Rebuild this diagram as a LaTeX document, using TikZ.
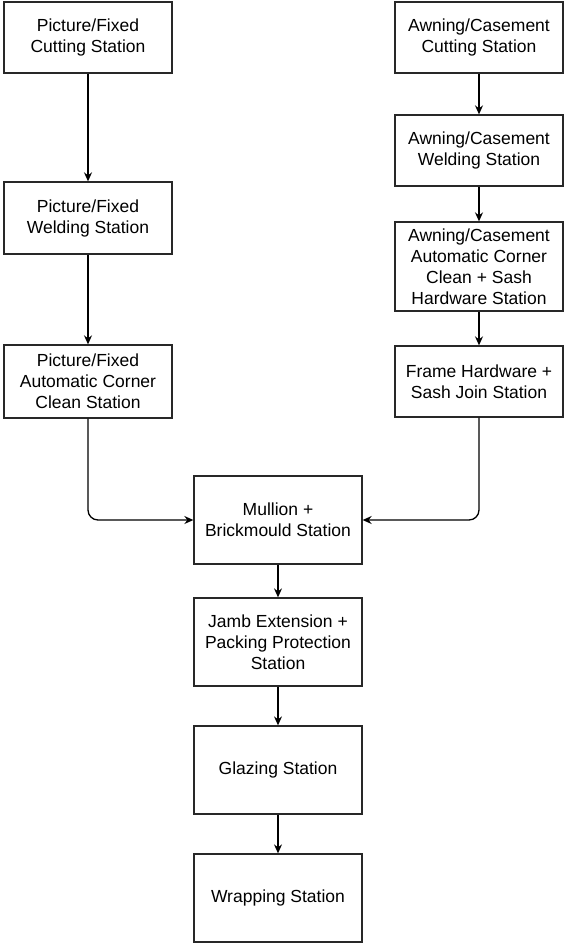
\documentclass[tikz,border=0pt]{standalone}
\usepackage{fontspec}
\setmainfont{Liberation Sans}
\definecolor{boxline}{RGB}{40, 40, 40}
\usetikzlibrary{arrows.meta,positioning}
\tikzset{
    station/.style={draw=boxline, line width=1.3pt, fill=white, align=center,
        minimum width=168pt, inner sep=2pt, font=\fontsize{17.5}{21}\selectfont},
    flow/.style={line width=1.3pt, -{Stealth[length=9pt,width=8pt,inset=3pt]}}
}
\begin{document}
\begin{tikzpicture}[x=1pt, y=-1pt]
    \useasboundingbox (0,0) rectangle (563,943);

    % Picture/Fixed line
    \node[station, minimum height=71pt] (pf1) at (88,37.5) {Picture/Fixed\\Cutting Station};
    \node[station, minimum height=72pt] (pf2) at (88,218) {Picture/Fixed\\Welding Station};
    \node[station, minimum height=73pt] (pf3) at (88,381.5) {Picture/Fixed\\Automatic Corner\\Clean Station};

    % Awning/Casement line
    \node[station, minimum height=71pt] (ac1) at (479,37.5) {Awning/Casement\\Cutting Station};
    \node[station, minimum height=71pt] (ac2) at (479,150.5) {Awning/Casement\\Welding Station};
    \node[station, minimum height=89pt] (ac3) at (479,266.5) {Awning/Casement\\Automatic Corner\\Clean + Sash\\Hardware Station};
    \node[station, minimum height=71pt] (ac4) at (479,381.5) {Frame Hardware +\\Sash Join Station};

    % Common line
    \node[station, minimum height=88pt] (mul) at (278,520) {Mullion +\\Brickmould Station};
    \node[station, minimum height=88pt] (jamb) at (278,642) {Jamb Extension +\\Packing Protection\\Station};
    \node[station, minimum height=88pt] (glaz) at (278,770) {Glazing Station};
    \node[station, minimum height=88pt] (wrap) at (278,898) {Wrapping Station};

    % Arrows
    \draw[flow] (pf1) -- (pf2);
    \draw[flow] (pf2) -- (pf3);
    \draw[flow] (ac1) -- (ac2);
    \draw[flow] (ac2) -- (ac3);
    \draw[flow] (ac3) -- (ac4);
    \draw[flow, rounded corners=10pt] (pf3.south) |- (mul.west);
    \draw[flow, rounded corners=10pt] (ac4.south) |- (mul.east);
    \draw[flow] (mul) -- (jamb);
    \draw[flow] (jamb) -- (glaz);
    \draw[flow] (glaz) -- (wrap);
\end{tikzpicture}
\end{document}
